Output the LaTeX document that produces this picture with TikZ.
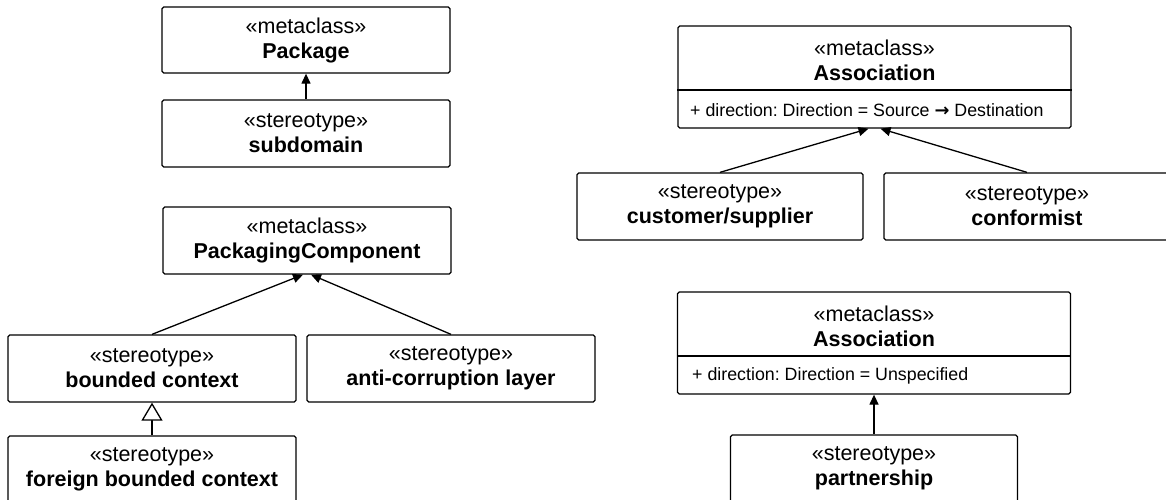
\documentclass[tikz,border=0pt]{standalone}
\usepackage{fontspec}
\setmainfont{Liberation Sans}
\newfontfamily\arrowfont{DejaVu Sans}
\frenchspacing
\usetikzlibrary{arrows.meta}
\begin{document}
\frenchspacing
\begin{tikzpicture}[x=1pt,y=-1pt,
  box/.style={draw, line width=1.3pt, rounded corners=1.8pt, inner sep=0pt,
    align=center, font=\fontsize{21.5}{25}\selectfont},
  stbox/.style={box, minimum width=288pt, minimum height=67pt},
  headtext/.style={inner sep=0pt, align=center, font=\fontsize{21.5}{25}\selectfont},
  attrtext/.style={inner sep=0pt, anchor=west, font=\fontsize{17.8}{21}\selectfont},
  assoc/.style={line width=1.3pt, -{Triangle[length=10pt,width=9pt]}},
  gen/.style={line width=1.3pt, -{Triangle[open,fill=white,length=18pt,width=21pt]}}]
\useasboundingbox (0,0) rectangle (1166,499);
\clip (0,0) rectangle (1166,499);

% left column: packaging stereotypes
\node[stbox, minimum height=66pt] (package) at (306,40) {«metaclass»\\\textbf{Package}};
\node[stbox] (subdomain) at (306,133.5) {«stereotype»\\\textbf{subdomain}};
\node[stbox] (pc) at (307,240.5) {«metaclass»\\\textbf{PackagingComponent}};
\node[stbox] (bounded) at (152,368.5) {«stereotype»\\\textbf{bounded context}};
\node[stbox] (acl) at (451,368.5) {«stereotype»\\\textbf{anti-corruption layer}};
\node[stbox] (foreign) at (152,469.5) {«stereotype»\\\textbf{foreign bounded context}};

% right column: association stereotypes
\node[box, minimum width=393pt, minimum height=102pt] (assoc1) at (874.5,77) {};
\node[headtext] (assoc1h) at (874.5,60) {«metaclass»\\\textbf{Association}};
\coordinate (sep1) at (874.5,90);
\draw[line width=1.3pt] (assoc1.west |- sep1) -- (assoc1.east |- sep1);
\node[attrtext] (assoc1a) at (690,110) {+ direction: Direction = Source {\arrowfont\bfseries →} Destination};

\node[stbox, minimum width=286pt] (customer) at (720,206.5) {«stereotype»\\\textbf{customer/supplier}};
\node[stbox, minimum width=286pt] (conformist) at (1027,206.5) {«stereotype»\\\textbf{conformist}};

\node[box, minimum width=393pt, minimum height=102pt] (assoc2) at (874,343) {};
\node[headtext] (assoc2h) at (874,326) {«metaclass»\\\textbf{Association}};
\coordinate (sep2) at (874,356);
\draw[line width=1.3pt] (assoc2.west |- sep2) -- (assoc2.east |- sep2);
\node[attrtext] (assoc2a) at (692,375.5) {+ direction: Direction = Unspecified};

\node[stbox, minimum width=287pt] (partnership) at (874,468.5) {«stereotype»\\\textbf{partnership}};

% extension arrows
\draw[assoc] (subdomain.north) -- (package.south);
\draw[assoc] (bounded.north) -- ([xshift=-4pt]pc.south);
\draw[assoc] (acl.north) -- ([xshift=4pt]pc.south);
\draw[assoc] (customer.north) -- ([xshift=-6pt]assoc1.south);
\draw[assoc] (conformist.north) -- ([xshift=6pt]assoc1.south);
\draw[assoc] (partnership.north) -- (assoc2.south);

% generalization
\draw[gen] (foreign.north) -- (bounded.south);
\end{tikzpicture}
\end{document}
